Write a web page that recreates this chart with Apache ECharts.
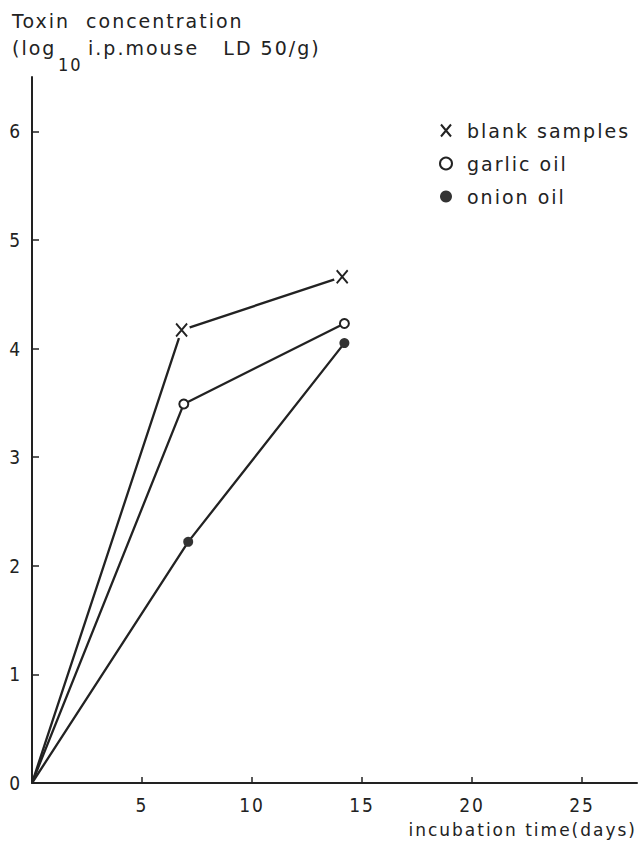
<!DOCTYPE html>
<html>
<head>
<meta charset="utf-8">
<script src="https://cdn.jsdelivr.net/npm/echarts@6/dist/echarts.min.js"></script>
<style>html,body{margin:0;padding:0;background:#fff}#c{width:641px;height:846px;letter-spacing:2px}</style>
</head>
<body>
<div id="c"></div>
<script>
const seriesNames = ['blank samples', 'garlic oil', 'onion oil'];
const blankData = [[0, 0], [6.8, 4.17], [14.1, 4.66]];
const garlicData = [[0, 0], [6.9, 3.49], [14.2, 4.23]];
const onionData = [[0, 0], [7.1, 2.22], [14.2, 4.05]];
const xTicks = [5, 10, 15, 20, 25];
const yTicks = [0, 1, 2, 3, 4, 5, 6];
const yTitle1 = 'Toxin  concentration';
const yTitle2a = '(log';
const yTitle2sub = '10';
const yTitle2b = 'i.p.mouse   LD 50/g)';
const xTitle = 'incubation time(days)';

const FONT = '"DejaVu Sans", sans-serif';
const NUMFONT = '"DejaVu Sans Condensed", "DejaVu Sans", sans-serif';
const INK = '#222';
const X_PATH = 'path://M0,0L10,12M10,0L0,12';

function pts(d) {
  return d.map((p, i) => i === 0 ? { value: p, symbol: 'none' } : { value: p });
}
function marks(d) {
  return d.slice(1);
}

const chart = echarts.init(document.getElementById('c'), null, { renderer: 'svg' });
chart.setOption({
  animation: false,
  backgroundColor: '#fff',
  grid: { left: 32, right: 4, top: 77, bottom: 63, containLabel: false },
  xAxis: {
    type: 'value', min: 0, max: 27.5, interval: 5,
    axisLine: { lineStyle: { color: INK, width: 2 } },
    axisTick: { inside: true, length: 6, lineStyle: { color: INK, width: 1.5 } },
    splitLine: { show: false },
    axisLabel: {
      color: INK, fontFamily: NUMFONT, fontSize: 19, margin: 12, showMaxLabel: false,
      formatter: v => xTicks.includes(v) ? String(v) : ''
    },
    name: xTitle, nameLocation: 'end', nameGap: 0,
    nameTextStyle: { color: INK, fontFamily: FONT, fontSize: 17, align: 'right', verticalAlign: 'top', padding: [38, 0, 0, 0] }
  },
  yAxis: {
    type: 'value', min: 0, max: 6.5, interval: 1,
    axisLine: { lineStyle: { color: INK, width: 2 } },
    axisTick: { inside: true, length: 7, lineStyle: { color: INK, width: 1.5 } },
    splitLine: { show: false },
    axisLabel: {
      color: INK, fontFamily: NUMFONT, fontSize: 19, margin: 10, showMaxLabel: false,
      formatter: v => yTicks.includes(v) ? String(v) : ''
    }
  },
  graphic: [
    { type: 'text', left: 12, top: 11, style: { text: yTitle1, fill: INK, font: '19px ' + FONT } },
    { type: 'text', left: 12, top: 38, style: { text: yTitle2a, fill: INK, font: '19px ' + FONT } },
    { type: 'text', left: 58, top: 55, style: { text: yTitle2sub, fill: INK, font: '18px ' + NUMFONT } },
    { type: 'text', left: 88, top: 38, style: { text: yTitle2b, fill: INK, font: '19px ' + FONT } }
  ],
  legend: {
    orient: 'vertical', left: 434, top: 116, itemGap: 14, itemWidth: 12, itemHeight: 12,
    textStyle: { color: INK, fontFamily: FONT, fontSize: 19, padding: [0, 0, 0, 10] },
    data: [
      { name: seriesNames[0], icon: X_PATH, itemStyle: { color: 'transparent', borderColor: INK, borderWidth: 2 } },
      { name: seriesNames[1], icon: 'circle', itemStyle: { color: '#fff', borderColor: INK, borderWidth: 2 } },
      { name: seriesNames[2], icon: 'circle', itemStyle: { color: '#333', borderColor: '#333', borderWidth: 0 } }
    ]
  },
  series: [
    {
      name: seriesNames[0], type: 'line', data: pts(blankData), z: 2,
      showSymbol: false, symbol: 'none',
      lineStyle: { color: INK, width: 2.3 }
    },
    {
      name: 'blank-gap', type: 'line', data: marks(blankData), z: 3,
      symbol: 'circle', symbolSize: 17,
      lineStyle: { width: 0, opacity: 0 },
      itemStyle: { color: '#fff', borderWidth: 0 }
    },
    {
      name: seriesNames[0], type: 'line', data: marks(blankData), z: 4,
      symbol: X_PATH, symbolSize: [11, 13],
      lineStyle: { width: 0, opacity: 0 },
      itemStyle: { color: 'transparent', borderColor: INK, borderWidth: 2 }
    },
    {
      name: seriesNames[1], type: 'line', data: pts(garlicData), z: 2,
      symbol: 'circle', symbolSize: 9,
      lineStyle: { color: INK, width: 2.3 },
      itemStyle: { color: '#fff', borderColor: INK, borderWidth: 2 }
    },
    {
      name: seriesNames[2], type: 'line', data: pts(onionData), z: 2,
      symbol: 'circle', symbolSize: 10,
      lineStyle: { color: INK, width: 2.3 },
      itemStyle: { color: '#333', borderColor: '#333', borderWidth: 0 }
    }
  ]
});
</script>
</body>
</html>
